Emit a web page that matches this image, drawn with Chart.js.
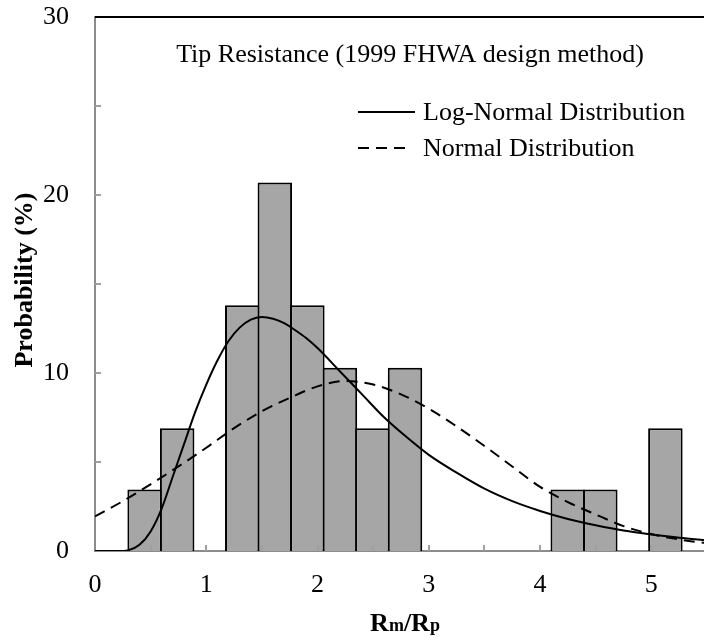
<!DOCTYPE html>
<html>
<head>
<meta charset="utf-8">
<script src="https://cdn.jsdelivr.net/npm/chart.js@4/dist/chart.umd.min.js"></script>
<style>
  html, body { margin: 0; padding: 0; background: #fff; overflow: hidden; }
  canvas { display: block; }
</style>
</head>
<body>
<canvas id="tipChart" width="712" height="641"></canvas>
<script>
// histogram of Rm/Rp (bin centres, % of 29 piles)
const binCenters = [0.446, 0.7385, 1.3235, 1.616, 1.9085, 2.201, 2.4935, 2.786, 4.2485, 4.541, 5.126];
const binProb = [3.45, 6.9, 13.8, 20.7, 13.8, 10.3, 6.9, 10.3, 3.45, 3.45, 6.9];

// fitted curves
const logNormX = [0, 0.2, 0.3, 0.4, 0.5, 0.6, 0.7, 0.8, 0.9, 1.0, 1.1, 1.2, 1.3, 1.4, 1.5, 1.6, 1.7, 1.8, 1.9, 2.0,
  2.2, 2.4, 2.6, 2.8, 3.0, 3.25, 3.5, 3.75, 4.0, 4.25, 4.5, 4.75, 5.0, 5.25, 5.5];
const logNormY = [0, 0, 0.05, 0.35, 1.1, 2.4, 4.2, 6.0, 7.8, 9.35, 10.7, 11.8, 12.55, 13.0, 13.15, 13.05, 12.8, 12.4, 11.95, 11.4,
  10.1, 8.8, 7.5, 6.4, 5.4, 4.4, 3.5, 2.8, 2.25, 1.8, 1.45, 1.15, 0.93, 0.75, 0.6];

const normX = [0, 0.25, 0.5, 0.75, 1.0, 1.25, 1.5, 1.75, 2.0, 2.25, 2.5, 2.75, 3.0, 3.25, 3.5, 3.75, 4.0, 4.25, 4.5, 4.75, 5.0, 5.25, 5.5];
const normY = [1.95, 2.8, 3.75, 4.75, 5.8, 6.9, 7.85, 8.6, 9.25, 9.55, 9.35, 8.8, 8.0, 7.0, 5.9, 4.75, 3.6, 2.75, 2.05, 1.4, 0.95, 0.65, 0.43];

const xMarks = [0.5, 1, 1.5, 2, 2.5, 3, 3.5, 4, 4.5, 5];
const yMarks = [5, 10, 15, 20, 25];

const chartTitle = "Tip Resistance (1999 FHWA design method)";
const yTitle = "Probability (%)";

const serif = "'Liberation Serif', 'Times New Roman', serif";
const axisGray = "#8c8c8c";

const toPoints = (xs, ys) => xs.map((x, i) => ({ x: x, y: ys[i] }));

const extras = {
  id: "extras",
  afterDatasetsDraw(chart) {
    const ctx = chart.ctx;
    const area = chart.chartArea;
    const xs = chart.scales.x;
    const ys = chart.scales.y;
    ctx.save();

    // inside tick marks
    ctx.strokeStyle = "#a0a0a0";
    ctx.lineWidth = 2;
    xMarks.forEach((v) => {
      const px = Math.round(xs.getPixelForValue(v));
      ctx.beginPath();
      ctx.moveTo(px, area.bottom);
      ctx.lineTo(px, area.bottom - 6);
      ctx.stroke();
    });
    yMarks.forEach((v) => {
      const py = Math.round(ys.getPixelForValue(v));
      ctx.beginPath();
      ctx.moveTo(area.left, py);
      ctx.lineTo(area.left + 6, py);
      ctx.stroke();
    });

    // top frame line
    ctx.strokeStyle = "#000";
    ctx.beginPath();
    ctx.moveTo(area.left, area.top);
    ctx.lineTo(chart.width, area.top);
    ctx.stroke();

    // title in the plot
    ctx.fillStyle = "#000";
    ctx.font = "26px " + serif;
    ctx.textAlign = "center";
    ctx.textBaseline = "alphabetic";
    ctx.fillText(chartTitle, 410, 62);

    // legend
    ctx.textAlign = "left";
    ctx.textBaseline = "middle";
    const lines = chart.data.datasets.filter((d) => d.type === "line");
    lines.forEach((d, i) => {
      const y = 112 + i * 36;
      ctx.strokeStyle = d.borderColor;
      ctx.lineWidth = d.borderWidth;
      ctx.setLineDash(d.borderDash || []);
      ctx.beginPath();
      ctx.moveTo(358, y);
      ctx.lineTo(i === 0 ? 415 : 410, y);
      ctx.stroke();
      ctx.setLineDash([]);
      ctx.fillText(d.label, 423, y + 1);
    });

    // axis titles
    ctx.font = "bold 26px " + serif;
    ctx.textBaseline = "alphabetic";
    ctx.save();
    ctx.translate(32, 280);
    ctx.rotate(-Math.PI / 2);
    ctx.textAlign = "center";
    ctx.fillText(yTitle, 0, 0);
    ctx.restore();

    const parts = [["R", 26], ["m", 18], ["/R", 26], ["p", 18]];
    let total = 0;
    parts.forEach((p) => {
      ctx.font = "bold " + p[1] + "px " + serif;
      total += ctx.measureText(p[0]).width;
    });
    let x = 405 - total / 2;
    ctx.textAlign = "left";
    parts.forEach((p) => {
      ctx.font = "bold " + p[1] + "px " + serif;
      ctx.fillText(p[0], x, 631);
      x += ctx.measureText(p[0]).width;
    });
    ctx.restore();
  },
};

const tipChart = new Chart(document.querySelector("#tipChart"), {
  type: "bar",
  data: {
    datasets: [
      {
        type: "line",
        label: "Log-Normal Distribution",
        data: toPoints(logNormX, logNormY),
        borderColor: "#000",
        borderWidth: 2,
        pointRadius: 0,
        cubicInterpolationMode: "monotone",
        order: 1,
      },
      {
        type: "line",
        label: "Normal Distribution",
        data: toPoints(normX, normY),
        borderColor: "#000",
        borderWidth: 2,
        borderDash: [11, 7],
        pointRadius: 0,
        cubicInterpolationMode: "monotone",
        order: 1,
      },
      {
        type: "bar",
        label: "Histogram",
        data: toPoints(binCenters, binProb),
        backgroundColor: "#a6a6a6",
        borderColor: "#000",
        borderWidth: 2,
        // a little over 1 so that neighbouring bars share one border
        barPercentage: 1.06,
        categoryPercentage: 1,
        order: 2,
      },
    ],
  },
  options: {
    responsive: false,
    animation: false,
    layout: { padding: { left: 0, right: 5, top: 17, bottom: 0 } },
    plugins: {
      legend: { display: false },
      tooltip: { enabled: false },
    },
    scales: {
      x: {
        type: "linear",
        min: 0,
        max: 5.5,
        offset: false,
        grid: { display: false, drawTicks: false, offset: false },
        border: { display: true, color: axisGray, width: 2 },
        ticks: {
          stepSize: 1,
          includeBounds: false,
          padding: 19,
          color: "#000",
          font: { family: serif, size: 26 },
          maxRotation: 0,
        },
        afterFit(scale) {
          scale.height = 90;
          scale.paddingLeft = 0;
          scale.paddingRight = 0;
        },
      },
      y: {
        min: 0,
        max: 30,
        grid: { display: false, drawTicks: false },
        border: { display: true, color: axisGray, width: 2 },
        ticks: {
          stepSize: 10,
          padding: 26,
          color: "#000",
          font: { family: serif, size: 26 },
        },
        afterFit(scale) {
          scale.width = 95;
          scale.paddingTop = 0;
          scale.paddingBottom = 0;
        },
      },
    },
  },
  plugins: [extras],
});
</script>
</body>
</html>
